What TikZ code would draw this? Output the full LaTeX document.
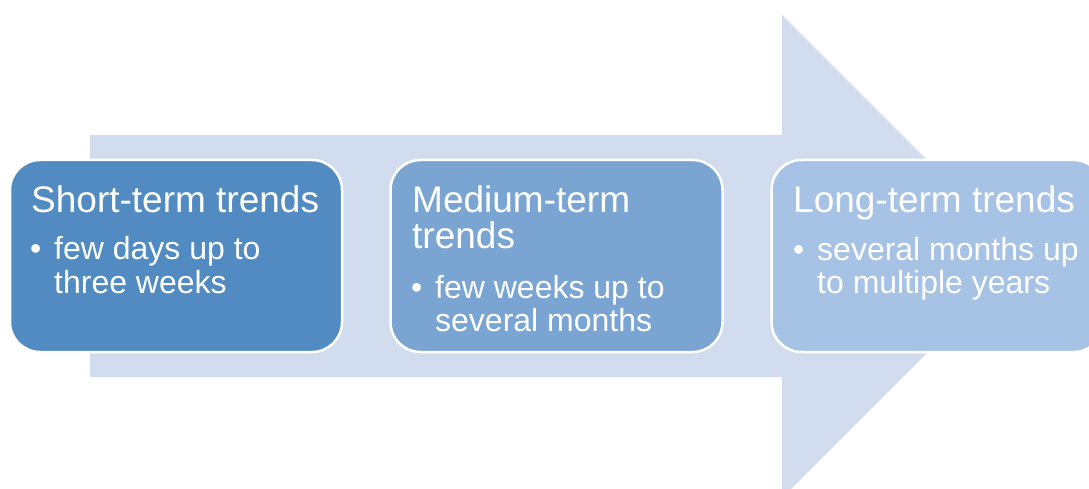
\documentclass[tikz,border=0pt]{standalone}
\usepackage{fontspec}
\setmainfont{Liberation Sans}
\definecolor{arrowc}{RGB}{209,221,238}
\definecolor{cone}{RGB}{81,139,193}
\definecolor{ctwo}{RGB}{122,165,211}
\definecolor{cthree}{RGB}{166,194,228}
\begin{document}
\begin{tikzpicture}[x=1pt,y=-1pt,
  box/.style={draw=white,line width=2.5pt,rounded corners=30pt,minimum width=332pt,minimum height=192pt,inner sep=0pt},
  ttl/.style={text=white,anchor=base west,inner sep=0pt,font=\fontsize{37}{40}\selectfont},
  itm/.style={text=white,anchor=base west,inner sep=0pt,font=\fontsize{32}{36}\selectfont}]
\useasboundingbox (0,0) rectangle (1089,489);
\clip (0,0) rectangle (1089,489);
\fill[arrowc] (90,135) -- (782,135) -- (782,15) -- (1023.5,256.5) -- (782,498) -- (782,377) -- (90,377) -- cycle;
\node[box,fill=cone] (b1) at (176,256) {};
\node[box,fill=ctwo] (b2) at (556.5,256) {};
\node[box,fill=cthree] (b3) at (937.5,256) {};
% box 1
\node[ttl] (t1) at (31,212) {Short-term trends};
\node[itm] (d1) at (30,259.5) {•};
\node[itm] (i1a) at (54,259.5) {few days up to};
\node[itm] (i1b) at (54,293.5) {three weeks};
% box 2
\node[ttl] (t2a) at (412,212) {Medium-term};
\node[ttl] (t2b) at (412,248.5) {trends};
\node[itm] (d2) at (411,298) {•};
\node[itm] (i2a) at (435,298) {few weeks up to};
\node[itm] (i2b) at (435,331.5) {several months};
% box 3
\node[ttl] (t3) at (793,212) {Long-term trends};
\node[itm] (d3) at (793,260) {•};
\node[itm] (i3a) at (817,260) {several months up};
\node[itm] (i3b) at (817,293.5) {to multiple years};
\end{tikzpicture}
\end{document}
